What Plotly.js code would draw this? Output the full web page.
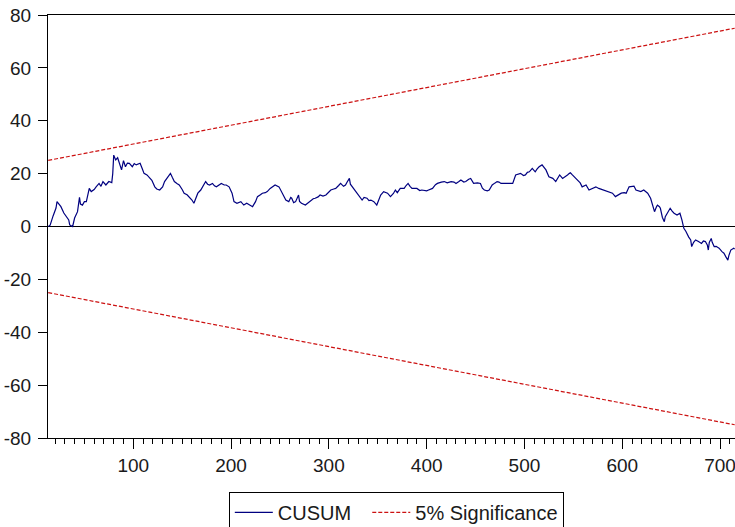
<!DOCTYPE html>
<html>
<head>
<meta charset="utf-8">
<script src="https://cdn.plot.ly/plotly-3.0.1.min.js"></script>
<style>html,body{margin:0;padding:0;background:#fff;}#chart{width:735px;height:527px;}</style>
</head>
<body>
<div id="chart"></div>
<script>
// CUSUM recursive-residual statistic
const obs = [13,15,18,21,22,24,26,29,32,34,35,38,40,43,45,46,48,50,52,55,57,60,62,65,67,69,72,75,78,79,80,81,82,84,86,88,90,92,94,96,99,101,103,107,109,111,114,116,119,122,124,127,130,132,135,138,140,142,145,147,150,152,155,157,160,162,164,166,169,172,174,176,178,181,183,185,188,190,193,195,198,201,203,206,210,213,216,219,222,225,227,230,232,235,237,240,243,245,249,252,256,259,261,262,264,266,268,269,270,272,276,279,281,284,286,289,291,294,297,300,302,305,307,310,312,315,317,319,321,322,324,327,329,331,334,336,339,341,343,346,349,351,353,356,360,363,366,368,370,373,377,379,381,383,385,390,393,395,400,402,406,409,411,415,418,421,425,428,430,433,435,438,440,443,445,448,452,455,457,459,462,464,467,470,472,474,476,481,486,488,491,494,496,499,501,503,505,508,511,513,515,518,520,522,525,527,529,532,534,536,539,542,544,546,547,549,551,554,557,559,561,563,566,568,570,573,576,579,581,584,586,588,590,593,596,599,602,604,607,610,612,614,617,619,622,624,626,629,631,633,635,636,638,639,641,643,644,647,649,651,653,656,659,661,663,665,666,668,670,671,673,675,678,681,683,685,687,688,689,691,692,694,696,699,702,704,706,708,709,711,714,715];
const cusum = [0,0.5,4,7,9.4,8.5,7.5,5.1,3.7,2.5,0.6,0,3.2,5.6,11,8.5,8.1,9.4,9.4,14.4,13.2,14,15,16.3,15.2,17,15.7,17,16.6,20,27,26,25.2,26,23.3,21.4,24.9,22.6,24,23.9,22.6,23.8,23.3,23.9,22,20.1,19.5,18.8,17.5,15,14.2,13.8,15,17,18.8,20.1,18.5,17,16.2,15.7,14,12.6,12,11.3,10,8.8,10.5,12.6,13.8,15.5,17,16,15.7,16.3,15.4,15,16,16.3,15.7,15.7,15,12.6,9.4,8.8,9.4,8.1,8.8,8.2,7.5,9.4,11.3,12,12.6,12.8,13.2,14.4,15,15.7,15,12.6,10,9.4,11,10.7,9,9.4,11.5,11.9,9.5,8.8,8.1,9,9.4,10.5,10.7,11.2,11.9,11.5,11.9,13,13.8,14.2,14.4,15.5,16.3,15.2,15.7,17,18.2,16,15,13.8,12.5,11.9,10,11,10.7,9.8,10,9.4,8.1,10,11.9,13.2,12.6,11.3,12.5,13.8,12.8,14.4,14.4,15.5,16.3,15.2,14.4,14.4,13.6,13.8,13.5,13.8,14.4,15.8,16.3,16.8,17,16.5,17,16.8,16.3,17,17.6,16.8,17,17.9,18.2,16.3,16.5,16.3,14.5,13.8,13.5,13.8,15.7,16.5,17,16.8,16.3,16.3,16.4,16.3,19.5,19.8,20.1,19.3,19.5,20.5,20.7,22,20.7,21.8,22.6,23.3,22.5,21.4,18.8,18.5,18.2,17,18.5,19.5,18.2,18.8,19.5,20.1,20.3,19.5,18.8,17.6,16.5,15,15.5,15.7,13.8,14.2,14.4,15,14.4,14,13.8,13.5,13.2,13,12.6,11.3,12,12.6,12.8,12.6,15,15.3,15.3,13.8,13.5,13.2,13.8,13,12.6,10.7,8,5.6,7.5,8.1,7.5,6.9,3.5,1.8,3.7,5.5,6.9,5.8,5,4.3,5,2.5,-0.7,-1.8,-2.6,-4,-5.1,-7.6,-6,-5.1,-5.7,-6.4,-5.5,-5.7,-7,-8.9,-6,-4.5,-6,-7.6,-7.5,-8.2,-9.5,-10.1,-11.5,-12.7,-11,-8.9,-8.2,-8.5];

// 5% significance bounds (straight lines, endpoints)
const bandObs = [13, 715];
const upperBand = [25, 75];
const lowerBand = [-25, -75];

const yTickVals = [-80, -60, -40, -20, 0, 20, 40, 60, 80];
const yTickText = ["-80", "-60", "-40", "-20", "0", "20", "40", "60", "80"];
const xTickVals = [100, 200, 300, 400, 500, 600, 700];
const xTickText = ["100", "200", "300", "400", "500", "600", "700"];

const fontFam = "Arial, 'Liberation Sans', sans-serif";
const sigColor = "#cc1111";

const traces = [
  {x: obs, y: cusum, type: "scatter", mode: "lines", name: "CUSUM\u00a0\u00a0",
   line: {color: "#000080", width: 1.2}},
  {x: bandObs, y: upperBand, type: "scatter", mode: "lines", name: "5% Significance",
   line: {color: sigColor, width: 1.2, dash: "4px,2px"}},
  {x: bandObs, y: lowerBand, type: "scatter", mode: "lines", name: "5% Significance",
   showlegend: false, line: {color: sigColor, width: 1.2, dash: "4px,2px"}}
];

const layout = {
  width: 735, height: 527,
  margin: {l: 48, r: 0, t: 15, b: 89},
  paper_bgcolor: "#fff", plot_bgcolor: "#fff",
  font: {family: fontFam, size: 19, color: "#1a1a1a"},
  showlegend: true,
  legend: {orientation: "h", xref: "paper", x: 0.507, xanchor: "center",
           yref: "container", y: 0.0665, yanchor: "top", itemwidth: 38,
           bordercolor: "#000", borderwidth: 1, bgcolor: "#fff",
           font: {family: fontFam, size: 20, color: "#1a1a1a"}},
  xaxis: {range: [12.8, 715.3], showgrid: false, zeroline: false,
          showline: true, linecolor: "#000", linewidth: 1, mirror: true,
          tickmode: "array", tickvals: xTickVals, ticktext: xTickText,
          ticks: "outside", ticklen: 10, tickwidth: 1, tickcolor: "#000",
          ticklabeloverflow: "allow",
          minor: {dtick: 10, tick0: 0, ticks: "outside", ticklen: 5, tickwidth: 1, tickcolor: "#000", showgrid: false},
          fixedrange: true},
  yaxis: {range: [-80, 80], showgrid: false,
          zeroline: true, zerolinecolor: "#000", zerolinewidth: 1.5,
          showline: true, linecolor: "#000", linewidth: 1, mirror: false,
          tickmode: "array", tickvals: yTickVals, ticktext: yTickText,
          ticks: "outside", ticklen: 9, tickwidth: 1, tickcolor: "#000",
          ticklabelstandoff: 3, fixedrange: true}
};

Plotly.newPlot("chart", traces, layout, {staticPlot: true, displayModeBar: false});
</script>
</body>
</html>
